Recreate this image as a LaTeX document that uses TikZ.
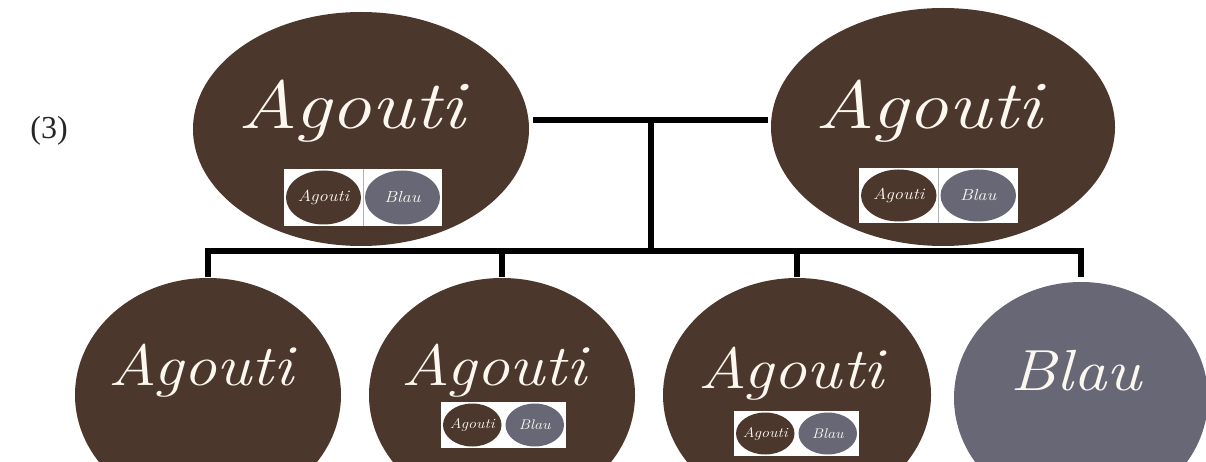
\documentclass[tikz,border=0pt]{standalone}
\usepackage{fontspec}
\usepackage{graphicx}
\newfontfamily\numfont{Liberation Serif}
\usetikzlibrary{shapes.geometric,calc}
\definecolor{agouti}{RGB}{76,55,45}
\definecolor{blau}{RGB}{103,103,118}
\definecolor{cream}{RGB}{252,248,240}
\newcommand{\widetxt}[1]{\scalebox{1.15}[1]{#1}}
\newcommand{\minipair}[6]{%
  \node[minibox, minimum width=#4pt, minimum height=#5pt] (#1) at (#2,#3) {};
  \node[fur, minimum width={(#4/2-4)*1pt}, minimum height={(#5-3)*1pt}] (#1a) at ($(#1.center)+(-#4/4,0)$) {};
  \node[furblau, minimum width={(#4/2-4)*1pt}, minimum height={(#5-3)*1pt}] (#1b) at ($(#1.center)+(#4/4,0)$) {};
  \node[minilbl, font=\itshape\fontsize{#6}{#6}\selectfont] (#1at) at (#1a.center) {\widetxt{Agouti}};
  \node[minilbl, font=\itshape\fontsize{#6}{#6}\selectfont] (#1bt) at (#1b.center) {\widetxt{Blau}};
}
\begin{document}
\begin{tikzpicture}[x=1pt,y=-1pt,
  fur/.style={ellipse, fill=agouti, draw=none, inner sep=0pt},
  furblau/.style={ellipse, fill=blau, draw=none, inner sep=0pt},
  lbl/.style={text=cream, inner sep=0pt, anchor=base},
  minilbl/.style={text=cream, inner sep=0pt, anchor=center},
  conn/.style={line width=6pt, line join=miter, line cap=butt, black},
  minibox/.style={rectangle, fill=white, draw=none, inner sep=0pt},
  divider/.style={draw=gray!60, line width=0.8pt},
]
\useasboundingbox (0,0) rectangle (1206,462);
\clip (0,0) rectangle (1206,462);

% label
\node[font=\numfont\fontsize{32}{32}\selectfont, text=black!85] (lab) at (49,131) {(3)};

% top parents
\node[fur, minimum width=336pt, minimum height=234pt] (T1) at (361,129) {};
\node[lbl, font=\itshape\fontsize{68}{68}\selectfont] (T1t) at (352,129) {\scalebox{1.2}[1]{Agouti}};
\minipair{T1m}{363}{197.5}{158}{57}{16}
\draw[divider] (T1m.north) -- (T1m.south);

\node[fur, minimum width=344pt, minimum height=238pt] (T2) at (943,127) {};
\node[lbl, font=\itshape\fontsize{68}{68}\selectfont] (T2t) at (929,129) {\scalebox{1.2}[1]{Agouti}};
\minipair{T2m}{938.5}{195.5}{159}{55}{16}
\draw[divider] (T2m.north) -- (T2m.south);

% children
\node[fur, minimum width=266pt, minimum height=234pt] (B1) at (208,395) {};
\node[lbl, font=\itshape\fontsize{58}{58}\selectfont] (B1t) at (201,385) {\widetxt{Agouti}};

\node[fur, minimum width=266pt, minimum height=234pt] (B2) at (502,395) {};
\node[lbl, font=\itshape\fontsize{58}{58}\selectfont] (B2t) at (494,385) {\widetxt{Agouti}};
\minipair{B2m}{503.5}{425}{125}{46}{14}

\node[fur, minimum width=268pt, minimum height=234pt] (B3) at (797,395) {};
\node[lbl, font=\itshape\fontsize{58}{58}\selectfont] (B3t) at (791,388) {\widetxt{Agouti}};
\minipair{B3m}{796.5}{433.5}{125}{45}{14}

\node[furblau, minimum width=254pt, minimum height=232pt] (B4) at (1081,398) {};
\node[lbl, font=\itshape\fontsize{58}{58}\selectfont] (B4t) at (1076,390) {\widetxt{Blau}};

% connectors
\coordinate (J) at (650.5,120);
\coordinate (bar) at (0,251);
\draw[conn] ([xshift=4pt]T1.east |- J) -- ([xshift=-3pt]T2.west |- J);
\draw[conn] ([yshift=3pt]J) -- (J |- bar);
\draw[conn] ([yshift=1pt]B1.north) -- (B1.north |- bar) -- (B4.north |- bar) -- ([yshift=5pt]B4.north);
\draw[conn] ([yshift=1pt]B2.north) -- (B2.north |- bar);
\draw[conn] ([yshift=1pt]B3.north) -- (B3.north |- bar);
\end{tikzpicture}
\end{document}
